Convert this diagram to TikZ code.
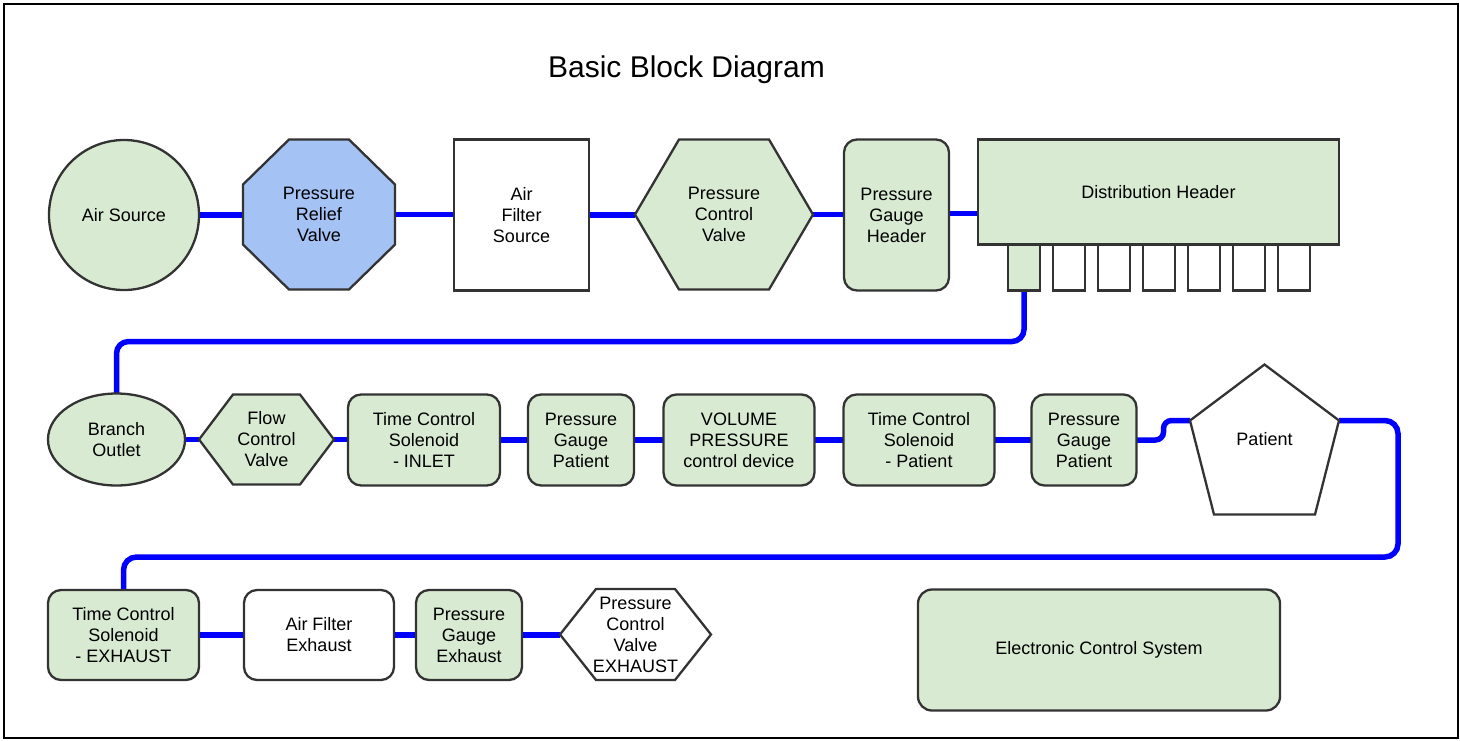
\documentclass[tikz,border=0pt]{standalone}
\usepackage{fontspec}
\setmainfont{Liberation Sans}
\usetikzlibrary{backgrounds,shapes.geometric}
\definecolor{gfill}{HTML}{D9EAD3}
\definecolor{bfill}{HTML}{A4C2F4}
\definecolor{edge}{HTML}{333333}
\definecolor{pipec}{HTML}{0000FF}
\newcommand\drawhex[3]{\draw[frm, fill=#3] ([xshift=#2]#1.north west) -- ([xshift=-#2]#1.north east) -- (#1.east) -- ([xshift=-#2]#1.south east) -- ([xshift=#2]#1.south west) -- (#1.west) -- cycle;}
\newcommand\drawoct[4]{\draw[frm, fill=#4] ([xshift=#2]#1.north west) -- ([xshift=-#2]#1.north east) -- ([yshift=-#3]#1.north east) -- ([yshift=#3]#1.south east) -- ([xshift=-#2]#1.south east) -- ([xshift=#2]#1.south west) -- ([yshift=#3]#1.south west) -- ([yshift=-#3]#1.north west) -- cycle;}
\begin{document}
\begin{tikzpicture}[x=1pt,y=-1pt,
  lbl/.style={font=\fontsize{18}{21}\selectfont, align=center, inner sep=0pt, outer sep=0pt},
  frm/.style={draw=edge, line width=2.3pt},
  gbox/.style={lbl, frm, fill=gfill, rectangle, rounded corners=13pt},
  wbox/.style={lbl, frm, fill=white, rectangle},
  gcirc/.style={lbl, frm, fill=gfill},
  pipe/.style={draw=pipec, line width=5.5pt}]
\useasboundingbox (0,0) rectangle (1460,740);
\draw[line width=1.5pt] (4,4) rectangle (1458,738);
\node[font=\fontsize{30}{35}\selectfont, inner sep=0pt] (title) at (686.5,70) {Basic Block Diagram};
% row 1
\node[gcirc, circle, minimum size=150pt] (src) at (124,215) {Air Source};
\node[lbl, minimum width=152pt, minimum height=150pt] (prv) at (319,214.5) {Pressure\\Relief\\Valve};
\node[wbox, minimum width=135pt, minimum height=151pt] (afs) at (521.5,215) {Air\\Filter\\Source};
\node[lbl, minimum width=178pt, minimum height=150pt] (pcv) at (724,214.5) {Pressure\\Control\\Valve};
\node[gbox, minimum width=105pt, minimum height=151pt] (pgh) at (896.5,215) {Pressure\\Gauge\\Header};
\node[wbox, fill=gfill, minimum width=361pt, minimum height=105pt] (dh) at (1158.5,192) {Distribution Header};
\node[wbox, fill=gfill, minimum width=32pt, minimum height=46pt] (p1) at (1024,267.5) {};
\foreach \i in {2,...,7}
  \node[wbox, minimum width=32pt, minimum height=46pt] (p\i) at ({1024+45*(\i-1)},267.5) {};
% row 2
\node[gcirc, ellipse, minimum width=137pt, minimum height=92pt] (bo) at (116.5,439.5) {Branch\\Outlet};
\node[lbl, minimum width=135pt, minimum height=90pt] (fcv) at (266.5,439.5) {Flow\\Control\\Valve};
\node[gbox, minimum width=152pt, minimum height=91pt] (tcsi) at (424,440) {Time Control\\Solenoid\\- INLET};
\node[gbox, minimum width=106pt, minimum height=91pt] (pgpa) at (581,440) {Pressure\\Gauge\\Patient};
\node[gbox, minimum width=151pt, minimum height=91pt] (vpc) at (739,440) {VOLUME\\PRESSURE\\control device};
\node[gbox, minimum width=151pt, minimum height=91pt] (tcsp) at (919,440) {Time Control\\Solenoid\\- Patient};
\node[gbox, minimum width=105pt, minimum height=91pt] (pgpb) at (1084,440) {Pressure\\Gauge\\Patient};
\node[lbl, minimum width=149pt, minimum height=150pt] (pat) at (1264.5,439.5) {Patient};
\coordinate (patL) at ([yshift=-56pt]pat.north west);
\coordinate (patR) at ([yshift=-56pt]pat.north east);
% row 3
\node[gbox, minimum width=151pt, minimum height=90pt] (tcse) at (123.5,635) {Time Control\\Solenoid\\- EXHAUST};
\node[gbox, fill=white, minimum width=150pt, minimum height=90pt] (afe) at (319,635) {Air Filter\\Exhaust};
\node[gbox, minimum width=106pt, minimum height=90pt] (pge) at (469,635) {Pressure\\Gauge\\Exhaust};
\node[lbl, minimum width=151pt, minimum height=91pt] (pcve) at (635.5,634.5) {Pressure\\Control\\Valve\\EXHAUST};
\node[gbox, rounded corners=14pt, minimum width=362pt, minimum height=121pt] (ecs) at (1099,650) {Electronic Control System};
\begin{pgfonlayer}{background}
  % pipes
  \draw[pipe] (src.east) -- (src.east -| prv.west);
  \draw[pipe] (prv.east) -- (prv.east -| afs.west);
  \draw[pipe] (afs.east) -- (afs.east -| pcv.west);
  \draw[pipe] (pcv.east) -- (pcv.east -| pgh.west);
  \draw[pipe] ([yshift=1.5pt]pgh.east) -- ([yshift=1.5pt]pgh.east -| dh.west);
  \draw[pipe, rounded corners=12pt] (p1.south) -- ++(0,51) -| (bo.north);
  \draw[pipe] (bo.east) -- (bo.east -| fcv.west);
  \draw[pipe] (fcv.east) -- (fcv.east -| tcsi.west);
  \draw[pipe] (tcsi.east) -- (tcsi.east -| pgpa.west);
  \draw[pipe] (pgpa.east) -- (pgpa.east -| vpc.west);
  \draw[pipe] (vpc.east) -- (vpc.east -| tcsp.west);
  \draw[pipe] (tcsp.east) -- (tcsp.east -| pgpb.west);
  \draw[pipe, rounded corners=8pt] (pgpb.east) -- ++(27,0) |- (patL);
  \draw[pipe, rounded corners=13pt] (patR) -| (1398,557) -| (tcse.north);
  \draw[pipe] (tcse.east) -- (tcse.east -| afe.west);
  \draw[pipe] (afe.east) -- (afe.east -| pge.west);
  \draw[pipe] (pge.east) -- (pge.east -| pcve.west);
  % custom shapes
  \drawoct{prv}{46pt}{45pt}{bfill}
  \drawhex{pcv}{44pt}{gfill}
  \drawhex{fcv}{34pt}{gfill}
  \drawhex{pcve}{36pt}{white}
  \draw[frm, fill=white] (pat.north) -- (patR) -- ([xshift=-24pt]pat.south east) -- ([xshift=24pt]pat.south west) -- (patL) -- cycle;
\end{pgfonlayer}
\end{tikzpicture}
\end{document}
